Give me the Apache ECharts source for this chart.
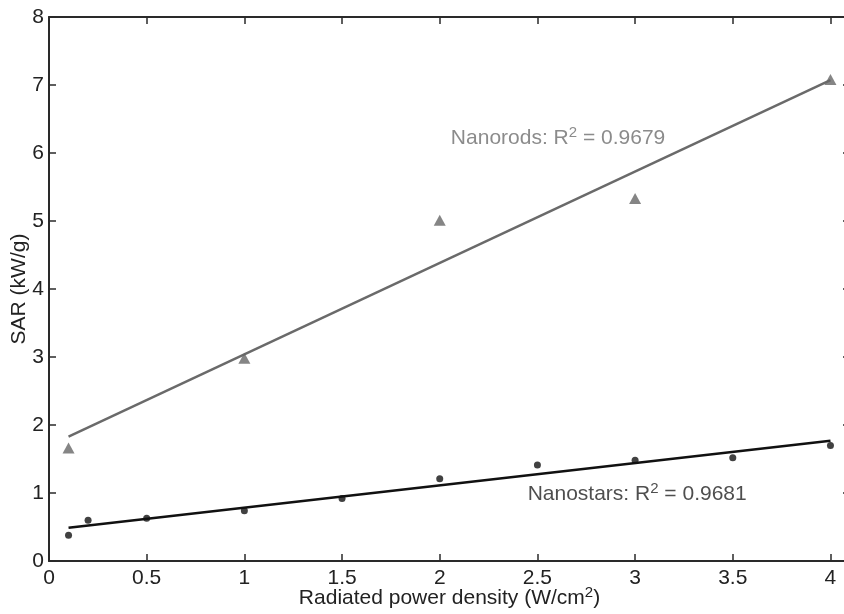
<!DOCTYPE html>
<html>
<head>
<meta charset="utf-8">
<script src="https://cdn.jsdelivr.net/npm/echarts@6/dist/echarts.min.js"></script>
<style>html,body{margin:0;padding:0;background:#fff}#c{width:844px;height:614px}</style>
</head>
<body>
<div id="c"></div>
<script>
// Nanostars measurements (x: W/cm2, y: kW/g)
var starsX = [0.1, 0.2, 0.5, 1, 1.5, 2, 2.5, 3, 3.5, 4];
var starsY = [0.38, 0.60, 0.63, 0.74, 0.92, 1.21, 1.41, 1.48, 1.52, 1.70];
// Nanorods measurements
var rodsX = [0.1, 1, 2, 3, 4];
var rodsY = [1.66, 2.98, 5.01, 5.33, 7.08];
// Linear fit end points
var starsFitX = [0.1, 4];
var starsFitY = [0.49, 1.77];
var rodsFitX = [0.1, 4];
var rodsFitY = [1.83, 7.07];
// Annotation anchors (left-middle of text) and texts
var rodsLabelPos = [2.057, 6.22];
var starsLabelPos = [2.45, 0.975];
var rodsLabel = ['Nanorods: R', '2', ' = 0.9679'];
var starsLabel = ['Nanostars: R', '2', ' = 0.9681'];
var xName = ['Radiated power density (W/cm', '2', ')'];
var yName = 'SAR (kW/g)';
// Axis ranges
var xMin = 0, xMax = 4.1, xStep = 0.5;
var yMin = 0, yMax = 8, yStep = 1;

function zip(a, b) { return a.map(function (v, i) { return [v, b[i]]; }); }
function richStr(parts) { return '{a|' + parts[0] + '}{s|' + parts[1] + '}{a|' + parts[2] + '}'; }

var FONT = 'Liberation Sans, Arial, Helvetica, sans-serif';
var AX = '#2a2a2a';
function rich(color) {
  return {
    a: { fontSize: 21, fontFamily: FONT, color: color, lineHeight: 26 },
    s: { fontSize: 15, fontFamily: FONT, color: color, lineHeight: 3, verticalAlign: 'top' }
  };
}

var axisLine = { show: true, onZero: false, lineStyle: { color: AX, width: 2 } };
var axisTick = { show: true, inside: true, length: 7, lineStyle: { color: AX, width: 1.5 } };

var chart = echarts.init(document.getElementById('c'), null, { renderer: 'canvas' });
chart.setOption({
  animation: false,
  backgroundColor: '#ffffff',
  grid: { left: 49, right: -6, top: 17, bottom: 53, containLabel: false, outerBoundsMode: 'none' },
  xAxis: [{
    type: 'value', min: xMin, max: xMax, interval: xStep, position: 'bottom',
    axisLine: axisLine, axisTick: axisTick, splitLine: { show: false },
    axisLabel: { margin: 7, fontSize: 21, fontFamily: FONT, color: '#222', showMaxLabel: false },
    name: richStr(xName), nameLocation: 'middle', nameGap: 24, nameMoveOverlap: false,
    nameTextStyle: { rich: rich('#222') }
  }, {
    type: 'value', min: xMin, max: xMax, interval: xStep, position: 'top',
    axisLine: axisLine, axisTick: axisTick, splitLine: { show: false },
    axisLabel: { show: false }
  }],
  yAxis: [{
    type: 'value', min: yMin, max: yMax, interval: yStep, position: 'left',
    axisLine: axisLine, axisTick: axisTick, splitLine: { show: false },
    axisLabel: { margin: 5, fontSize: 21, fontFamily: FONT, color: '#222' },
    name: yName, nameLocation: 'middle', nameGap: 19, nameRotate: 90, nameMoveOverlap: false,
    nameTextStyle: { fontSize: 21, fontFamily: FONT, color: '#222' }
  }, {
    type: 'value', min: yMin, max: yMax, interval: yStep, position: 'right',
    axisLine: axisLine, axisTick: axisTick, splitLine: { show: false },
    axisLabel: { show: false }
  }],
  series: [
    {
      type: 'line', data: zip(rodsFitX, rodsFitY), showSymbol: false, symbol: 'none',
      lineStyle: { color: '#6a6a6a', width: 2.5 }, z: 2
    },
    {
      type: 'line', data: zip(starsFitX, starsFitY), showSymbol: false, symbol: 'none',
      lineStyle: { color: '#111111', width: 2.5 }, z: 2
    },
    {
      type: 'scatter', data: zip(rodsX, rodsY), symbol: 'triangle', symbolSize: [12, 11],
      itemStyle: { color: '#666666' }, z: 3
    },
    {
      type: 'scatter', data: zip(starsX, starsY), symbol: 'circle', symbolSize: 7,
      itemStyle: { color: '#111111' }, z: 3
    },
    {
      type: 'scatter', symbolSize: 0, silent: true, z: 4,
      data: [{ value: rodsLabelPos, label: { show: true, position: 'right', distance: 0, formatter: richStr(rodsLabel), rich: rich('#6e6e6e') } },
             { value: starsLabelPos, label: { show: true, position: 'right', distance: 0, formatter: richStr(starsLabel), rich: rich('#222') } }]
    }
  ]
});
</script>
</body>
</html>
